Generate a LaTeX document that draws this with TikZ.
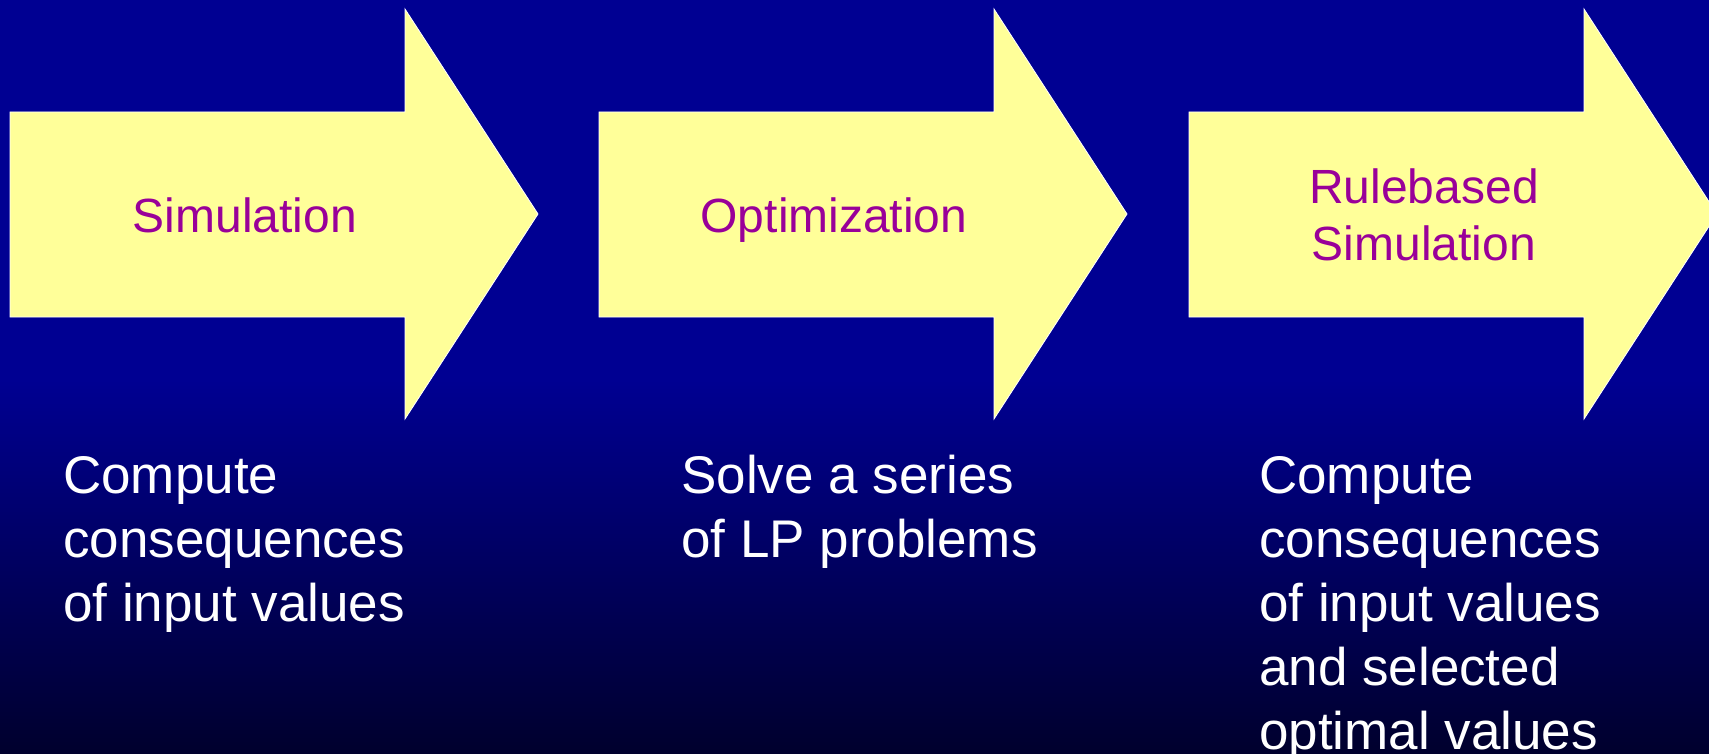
\documentclass[tikz,border=0pt]{standalone}
\usepackage{fontspec}
\setmainfont{Liberation Sans}
\definecolor{bgtop}{RGB}{0,0,146}
\definecolor{bgbot}{RGB}{0,0,45}
\definecolor{arrowyellow}{RGB}{255,255,153}
\definecolor{labpurple}{RGB}{153,0,153}
\begin{document}
\begin{tikzpicture}[x=1pt,y=-1pt,
  lab/.style={text=labpurple, font=\fontsize{48}{57}\selectfont, inner sep=0pt, anchor=base},
  desc/.style={text=white, font=\fontsize{53}{64}\selectfont, inner sep=0pt, anchor=base west},
  arrowshape/.style={fill=arrowyellow, draw=white, line width=0.8pt, line join=miter}]
\useasboundingbox (0,0) rectangle (1709,754);
\clip (0,0) rectangle (1709,754);
\fill[bgtop] (0,0) rectangle (1709,380);
\shade[top color=bgtop, bottom color=bgbot] (0,379.5) rectangle (1709,754);
\foreach \dx in {0,589,1179} {
  \path[arrowshape] (10+\dx,112) -- (405+\dx,112) -- (405+\dx,9) -- (538+\dx,214)
    -- (405+\dx,419) -- (405+\dx,317) -- (10+\dx,317) -- cycle;
}
\node[lab] (l1) at (245,233) {Simulation};
\node[lab] (l2) at (834,233) {Optimization};
\node[lab] (l3) at (1424,204) {\begin{tabular}[t]{@{}c@{}}Rulebased\\Simulation\end{tabular}};
\node[desc] (d1) at (63,493) {\begin{tabular}[t]{@{}l@{}}Compute\\consequences\\of input values\end{tabular}};
\node[desc] (d2) at (681,493) {\begin{tabular}[t]{@{}l@{}}Solve a series\\of LP problems\end{tabular}};
\node[desc] (d3) at (1259,493) {\begin{tabular}[t]{@{}l@{}}Compute\\consequences\\of input values\\and selected\\optimal values\end{tabular}};
\end{tikzpicture}
\end{document}
